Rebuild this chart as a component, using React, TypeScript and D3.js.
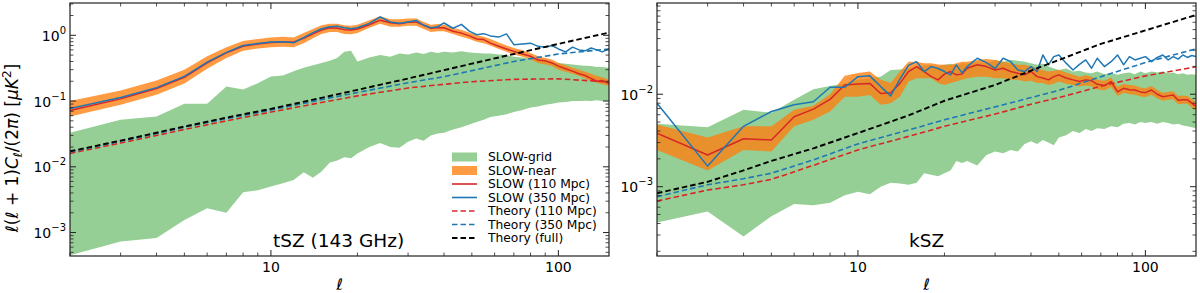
import React from 'react';
import * as d3 from 'd3';

// ---------- tSZ (143 GHz) panel data ----------
const tszEll = [2,3,4,5,6,7,8,9,10,11,12,13,14,15,16,17,18,19,20,22,24,26,28,30,32,34,36,38,40,43,46,49,52,55,58,62,66,70,75,80,85,90,95,100,106,112,118,124,130,136,142,150];
const tszGridHi = [0.033,0.052,0.058,0.091,0.091,0.166,0.15,0.186,0.237,0.245,0.285,0.32,0.35,0.38,0.41,0.45,0.56,0.58,0.40,0.46,0.50,0.47,0.53,0.51,0.55,0.52,0.56,0.54,0.56,0.55,0.57,0.55,0.54,0.53,0.53,0.51,0.50,0.47,0.46,0.44,0.43,0.41,0.39,0.38,0.37,0.36,0.35,0.345,0.34,0.33,0.33,0.32];
const tszGridLo = [4.5e-4,7.3e-4,8.3e-4,1.55e-3,2.34e-3,2.0e-3,4.1e-3,4.4e-3,5.0e-3,5.6e-3,6.3e-3,8.3e-3,6.8e-3,8.5e-3,0.0115,0.0125,0.014,0.0135,0.016,0.020,0.023,0.020,0.0195,0.024,0.027,0.025,0.030,0.032,0.033,0.037,0.040,0.044,0.048,0.052,0.057,0.060,0.063,0.068,0.073,0.080,0.083,0.088,0.091,0.095,0.097,0.100,0.100,0.101,0.100,0.103,0.100,0.100];
const tszNearLo = [0.058,0.088,0.125,0.185,0.31,0.45,0.58,0.63,0.66,0.67,0.66,0.76,0.90,1.05,1.12,1.12,1.05,1.04,1.08,1.3,1.5,1.35,1.35,1.4,1.4,1.25,1.12,1.15,1.15,1.05,0.95,0.88,0.8,0.76,0.7,0.62,0.56,0.51,0.47,0.43,0.38,0.36,0.34,0.30,0.28,0.26,0.24,0.22,0.20,0.19,0.18,0.17];
const tszNearHi = [0.10,0.145,0.205,0.30,0.48,0.66,0.82,0.88,0.93,0.95,0.93,1.08,1.25,1.42,1.50,1.50,1.42,1.40,1.45,1.7,1.95,1.75,1.75,1.8,1.8,1.6,1.45,1.48,1.45,1.3,1.2,1.1,1.0,0.95,0.88,0.78,0.7,0.64,0.59,0.54,0.48,0.45,0.43,0.38,0.35,0.32,0.30,0.28,0.26,0.24,0.23,0.21];
const tszSlow110 = [0.072,0.108,0.155,0.23,0.38,0.54,0.68,0.74,0.78,0.79,0.79,0.9,1.05,1.2,1.3,1.28,1.22,1.2,1.25,1.45,1.7,1.55,1.5,1.58,1.6,1.42,1.28,1.3,1.3,1.15,1.08,0.98,0.88,0.86,0.76,0.68,0.62,0.57,0.52,0.48,0.42,0.41,0.38,0.34,0.31,0.285,0.26,0.245,0.22,0.2,0.205,0.185];
const tszSlow350 = [0.077,0.113,0.16,0.237,0.39,0.55,0.70,0.75,0.79,0.80,0.77,0.92,1.1,1.26,1.35,1.37,1.3,1.26,1.3,1.52,1.9,1.6,1.52,1.6,1.68,1.42,1.3,1.35,1.54,1.28,1.47,1.16,1.02,1.06,0.98,0.94,1.05,0.72,0.74,0.76,0.68,0.66,0.70,0.62,0.56,0.66,0.6,0.58,0.64,0.6,0.56,0.62];
const theoryEll = [2,3,4,5,7,10,15,20,30,40,50,70,100,150];
const tszTh110 = [0.016,0.023,0.030,0.037,0.050,0.068,0.095,0.12,0.158,0.18,0.197,0.214,0.218,0.195];
const tszTh350 = [0.0168,0.0245,0.032,0.040,0.054,0.073,0.105,0.135,0.19,0.235,0.29,0.40,0.52,0.62];
const tszThFull = [0.0172,0.025,0.033,0.041,0.056,0.076,0.112,0.148,0.22,0.295,0.37,0.52,0.74,1.1];

// ---------- kSZ panel data ----------
const kszEll = [2,3,4,5,6,7,8,9,10,11,12,13,14,15,16,17,18,19,20,21,22,23,24,26,28,30,32,34,36,38,40,42,44,46,48,50,53,56,59,62,65,68,72,76,80,84,88,92,96,100,105,110,115,120,125,130,135,140,145,150];
const kszGridHi = [0.0048,0.0044,0.0068,0.0063,0.0087,0.0113,0.0123,0.0131,0.0143,0.0150,0.0155,0.0183,0.0185,0.0190,0.0199,0.0205,0.0208,0.0199,0.0208,0.0213,0.0205,0.0217,0.0213,0.0225,0.0217,0.0235,0.0225,0.0235,0.0230,0.0225,0.0217,0.0208,0.0213,0.0199,0.0191,0.0183,0.0190,0.0176,0.0180,0.0172,0.0169,0.0176,0.0165,0.0170,0.0162,0.0169,0.0172,0.0165,0.0176,0.0169,0.0176,0.0172,0.0176,0.0169,0.0172,0.0165,0.0169,0.0162,0.0165,0.0162];
const kszGridLo = [4.1e-4,5.4e-4,2.9e-4,4.8e-4,6.5e-4,6.3e-4,6.7e-4,8.1e-4,8.8e-4,8.3e-4,0.0010,0.0011,0.00108,0.00105,0.0011,0.0014,0.00135,0.0013,0.0014,0.0015,0.0019,0.0018,0.0019,0.0017,0.0022,0.0024,0.0023,0.0025,0.0024,0.0029,0.0031,0.0029,0.0032,0.0030,0.0028,0.0034,0.0036,0.0040,0.0038,0.0042,0.0040,0.0043,0.0042,0.0045,0.0044,0.0048,0.0049,0.0047,0.0050,0.0049,0.0050,0.0048,0.0050,0.0049,0.0047,0.0048,0.0046,0.0045,0.0044,0.0043];
const kszNearLo = [0.0025,0.0015,0.0025,0.0024,0.0045,0.0053,0.0065,0.0094,0.0094,0.0098,0.0077,0.0080,0.0094,0.0137,0.0149,0.0149,0.0149,0.0132,0.0126,0.0132,0.0137,0.0143,0.0149,0.0155,0.0155,0.0149,0.0149,0.0143,0.0143,0.0137,0.0140,0.0132,0.0132,0.0126,0.0130,0.0137,0.0130,0.0126,0.0121,0.0124,0.0122,0.0113,0.0110,0.0120,0.0096,0.0104,0.0100,0.0099,0.0095,0.0093,0.0099,0.0090,0.0085,0.0087,0.0088,0.0078,0.0079,0.0079,0.0072,0.0067];
const kszNearHi = [0.0047,0.0034,0.0045,0.0045,0.0068,0.0075,0.0100,0.0158,0.0170,0.0176,0.0143,0.0133,0.0176,0.0225,0.0225,0.0217,0.0217,0.0210,0.0208,0.0208,0.0217,0.0225,0.0225,0.0235,0.0240,0.0235,0.0225,0.0217,0.0208,0.0208,0.0199,0.0191,0.0183,0.0176,0.0180,0.0183,0.0172,0.0162,0.0155,0.0160,0.0155,0.0143,0.0140,0.0152,0.0120,0.0130,0.0126,0.0124,0.0118,0.0116,0.0123,0.0111,0.0104,0.0106,0.0108,0.0096,0.0097,0.0096,0.0089,0.0082];
const kszSlow110 = [0.0038,0.0022,0.0033,0.0032,0.0057,0.0069,0.0088,0.0126,0.0129,0.0131,0.0102,0.0104,0.0131,0.0176,0.0199,0.0176,0.0155,0.0143,0.0165,0.0176,0.0162,0.0165,0.0191,0.0208,0.0199,0.0183,0.0191,0.0176,0.0169,0.0162,0.0176,0.0155,0.0150,0.0143,0.0155,0.0162,0.0150,0.0143,0.0137,0.0143,0.0140,0.0128,0.0124,0.0137,0.0106,0.0116,0.0112,0.0111,0.0106,0.0104,0.0111,0.0100,0.0094,0.0096,0.0098,0.0086,0.0087,0.0087,0.0080,0.0074];
const kszSlow350 = [0.0080,0.00167,0.0045,0.0065,0.0077,0.0083,0.0119,0.0119,0.0155,0.0158,0.0121,0.0096,0.0146,0.0205,0.0225,0.0176,0.0199,0.019,0.0176,0.0162,0.0208,0.017,0.0199,0.0245,0.022,0.019,0.0245,0.0225,0.0183,0.0176,0.0199,0.0176,0.0266,0.0208,0.0255,0.0266,0.0217,0.0183,0.021,0.0235,0.0191,0.0245,0.0199,0.0225,0.0266,0.0208,0.0255,0.0235,0.0245,0.0255,0.0225,0.025,0.0266,0.0235,0.0255,0.024,0.0266,0.025,0.0262,0.0255];
const kszTh110 = [7.0e-4,9.2e-4,1.05e-3,1.2e-3,1.7e-3,2.5e-3,3.5e-3,4.5e-3,6.1e-3,7.8e-3,9.2e-3,0.0122,0.0158,0.0198];
const kszTh350 = [7.8e-4,1.05e-3,1.22e-3,1.4e-3,1.95e-3,2.9e-3,4.1e-3,5.3e-3,7.3e-3,9.2e-3,0.011,0.0155,0.022,0.031];
const kszThFull = [8.5e-4,1.13e-3,1.5e-3,1.9e-3,2.6e-3,3.8e-3,5.9e-3,8.5e-3,0.0126,0.018,0.0235,0.035,0.049,0.072];

const legendLabels = ['SLOW-grid','SLOW-near','SLOW (110 Mpc)','SLOW (350 Mpc)','Theory (110 Mpc)','Theory (350 Mpc)','Theory (full)'];
const ellDomain = [2, 150];

const C_GREEN = '#2ca02c';
const C_ORANGE = '#ff7f0e';
const C_RED = '#d62728';
const C_BLUE = '#1f77b4';
const FONT = 'DejaVu Sans';

type Pt = [number, number];
const zip = (xs: number[], ys: number[]): Pt[] => d3.range(Math.min(xs.length, ys.length)).map(i => [xs[i], ys[i]] as Pt);
const zip3 = (xs: number[], lo: number[], hi: number[]) => d3.range(Math.min(xs.length, lo.length, hi.length)).map(i => ({ x: xs[i], lo: lo[i], hi: hi[i] }));

function logTicks(a: number, b: number) {
  const major: number[] = [], minor: number[] = [];
  for (let e = Math.floor(Math.log10(a)) - 1; e <= Math.ceil(Math.log10(b)); e++) {
    for (let k = 1; k < 10; k++) {
      const v = k * Math.pow(10, e);
      if (v >= a * 0.9999 && v <= b * 1.0001) (k === 1 ? major : minor).push(v);
    }
  }
  return { major, minor };
}

interface PanelProps {
  id: string;
  x0: number; x1: number; y0: number; y1: number;
  yDomain: [number, number];
  ell: number[]; gridLo: number[]; gridHi: number[]; nearLo: number[]; nearHi: number[];
  slow110: number[]; slow350: number[];
  th110: number[]; th350: number[]; thFull: number[];
  label: string; labelX: number;
  legend?: boolean;
}

function Panel(p: PanelProps) {
  const x = d3.scaleLog().domain(ellDomain).range([p.x0, p.x1]);
  const y = d3.scaleLog().domain(p.yDomain).range([p.y1, p.y0]);
  const area = d3.area<{ x: number; lo: number; hi: number }>().x(d => x(d.x)).y0(d => y(d.lo)).y1(d => y(d.hi));
  const line = d3.line<Pt>().x(d => x(d[0])).y(d => y(d[1]));
  const xt = logTicks(ellDomain[0], ellDomain[1]);
  const yt = logTicks(p.yDomain[0], p.yDomain[1]);
  const dash = '5.5,3';
  const fmtExp = (v: number) => {
    const e = Math.round(Math.log10(v));
    return e < 0 ? '\u2212' + (-e) : String(e);
  };
  const tickCol = '#222';
  return (
    <g>
      <defs>
        <clipPath id={p.id}>
          <rect x={p.x0} y={p.y0} width={p.x1 - p.x0} height={p.y1 - p.y0} />
        </clipPath>
      </defs>
      <g clipPath={`url(#${p.id})`}>
        <path d={area(zip3(p.ell, p.gridLo, p.gridHi)) || ''} fill={C_GREEN} fillOpacity={0.5} stroke="none" />
        <path d={area(zip3(p.ell, p.nearLo, p.nearHi)) || ''} fill={C_ORANGE} fillOpacity={0.78} stroke="none" />
        <path d={line(zip(p.ell, p.slow110)) || ''} fill="none" stroke={C_RED} strokeWidth={1.5} strokeLinejoin="round" />
        <path d={line(zip(p.ell, p.slow350)) || ''} fill="none" stroke={C_BLUE} strokeWidth={1.5} strokeLinejoin="round" />
        <path d={line(zip(theoryEll, p.th110)) || ''} fill="none" stroke={C_RED} strokeWidth={1.6} strokeDasharray={dash} />
        <path d={line(zip(theoryEll, p.th350)) || ''} fill="none" stroke={C_BLUE} strokeWidth={1.6} strokeDasharray={dash} />
        <path d={line(zip(theoryEll, p.thFull)) || ''} fill="none" stroke="#000" strokeWidth={1.9} strokeDasharray={dash} />
      </g>
      {xt.major.map(v => (
        <g key={'xM' + v}>
          <line x1={x(v)} x2={x(v)} y1={p.y1} y2={p.y1 - 6} stroke={tickCol} strokeWidth={1} />
          <line x1={x(v)} x2={x(v)} y1={p.y0} y2={p.y0 + 6} stroke={tickCol} strokeWidth={1} />
          <text x={x(v)} y={p.y1 + 16} textAnchor="middle" fontSize={14} fontFamily={FONT}>{String(v)}</text>
        </g>
      ))}
      {xt.minor.map(v => (
        <g key={'xm' + v}>
          <line x1={x(v)} x2={x(v)} y1={p.y1} y2={p.y1 - 3.5} stroke={tickCol} strokeWidth={0.8} />
          <line x1={x(v)} x2={x(v)} y1={p.y0} y2={p.y0 + 3.5} stroke={tickCol} strokeWidth={0.8} />
        </g>
      ))}
      {yt.major.map(v => (
        <g key={'yM' + v}>
          <line x1={p.x0} x2={p.x0 + 6} y1={y(v)} y2={y(v)} stroke={tickCol} strokeWidth={1} />
          <line x1={p.x1} x2={p.x1 - 6} y1={y(v)} y2={y(v)} stroke={tickCol} strokeWidth={1} />
          <text x={p.x0 - 4} y={y(v) + 5.5} textAnchor="end" fontSize={14} fontFamily={FONT}>
            10<tspan dy={-7} fontSize={10}>{fmtExp(v)}</tspan>
          </text>
        </g>
      ))}
      {yt.minor.map(v => (
        <g key={'ym' + v}>
          <line x1={p.x0} x2={p.x0 + 3.5} y1={y(v)} y2={y(v)} stroke={tickCol} strokeWidth={0.8} />
          <line x1={p.x1} x2={p.x1 - 3.5} y1={y(v)} y2={y(v)} stroke={tickCol} strokeWidth={0.8} />
        </g>
      ))}
      <rect x={p.x0} y={p.y0} width={p.x1 - p.x0} height={p.y1 - p.y0} fill="none" stroke={tickCol} strokeWidth={1.2} />
      <text x={p.labelX} y={247} fontSize={18.5} fontFamily={FONT}>{p.label}</text>
      <text x={(p.x0 + p.x1) / 2} y={290} textAnchor="middle" fontSize={16} fontFamily={FONT} fontStyle="italic">ℓ</text>
      {p.legend && (
        <g fontFamily={FONT} fontSize={12.3}>
          {legendLabels.map((lab, i) => {
            const cy = 157 + i * 13.5;
            let handle: React.ReactNode = null;
            if (i === 0) handle = <rect x={452} y={cy - 4.5} width={25} height={9} fill={C_GREEN} fillOpacity={0.5} />;
            else if (i === 1) handle = <rect x={452} y={cy - 4.5} width={25} height={9} fill={C_ORANGE} fillOpacity={0.78} />;
            else {
              const col = i === 2 || i === 4 ? C_RED : i === 3 || i === 5 ? C_BLUE : '#000';
              handle = <line x1={452} x2={477} y1={cy} y2={cy} stroke={col} strokeWidth={i === 6 ? 1.9 : 1.6} strokeDasharray={i >= 4 ? dash : undefined} />;
            }
            return (
              <g key={lab}>
                {handle}
                <text x={488} y={cy + 4.4}>{lab}</text>
              </g>
            );
          })}
        </g>
      )}
    </g>
  );
}

export default function App() {
  return (
    <div style={{ position: 'fixed', left: 0, top: 0, width: 1200, height: 293, background: '#fff' }}>
      <svg width={1200} height={293} viewBox="0 0 1200 293" style={{ display: 'block' }}>
        <rect x={0} y={0} width={1200} height={293} fill="#fff" />
        <Panel id="clipL" x0={70} x1={609} y0={3} y1={256} yDomain={[4.4e-4, 3.1]}
          ell={tszEll} gridLo={tszGridLo} gridHi={tszGridHi} nearLo={tszNearLo} nearHi={tszNearHi}
          slow110={tszSlow110} slow350={tszSlow350} th110={tszTh110} th350={tszTh350} thFull={tszThFull}
          label="tSZ (143 GHz)" labelX={273} legend />
        <Panel id="clipR" x0={657} x1={1196} y0={3} y1={256} yDomain={[1.78e-4, 0.097]}
          ell={kszEll} gridLo={kszGridLo} gridHi={kszGridHi} nearLo={kszNearLo} nearHi={kszNearHi}
          slow110={kszSlow110} slow350={kszSlow350} th110={kszTh110} th350={kszTh350} thFull={kszThFull}
          label="kSZ" labelX={909} />
        <text transform="translate(18,148) rotate(-90)" textAnchor="middle" fontSize={17} fontFamily={FONT}>
          <tspan fontStyle="italic">ℓ</tspan>(<tspan fontStyle="italic">ℓ</tspan> + 1)<tspan fontStyle="italic">C</tspan>
          <tspan fontStyle="italic" fontSize={12} dy={4}>ℓ</tspan>
          <tspan dy={-4}>/(2</tspan><tspan fontStyle="italic">π</tspan>) [<tspan fontStyle="italic">μK</tspan>
          <tspan fontSize={12} dy={-7}>2</tspan><tspan dy={7}>]</tspan>
        </text>
      </svg>
    </div>
  );
}
